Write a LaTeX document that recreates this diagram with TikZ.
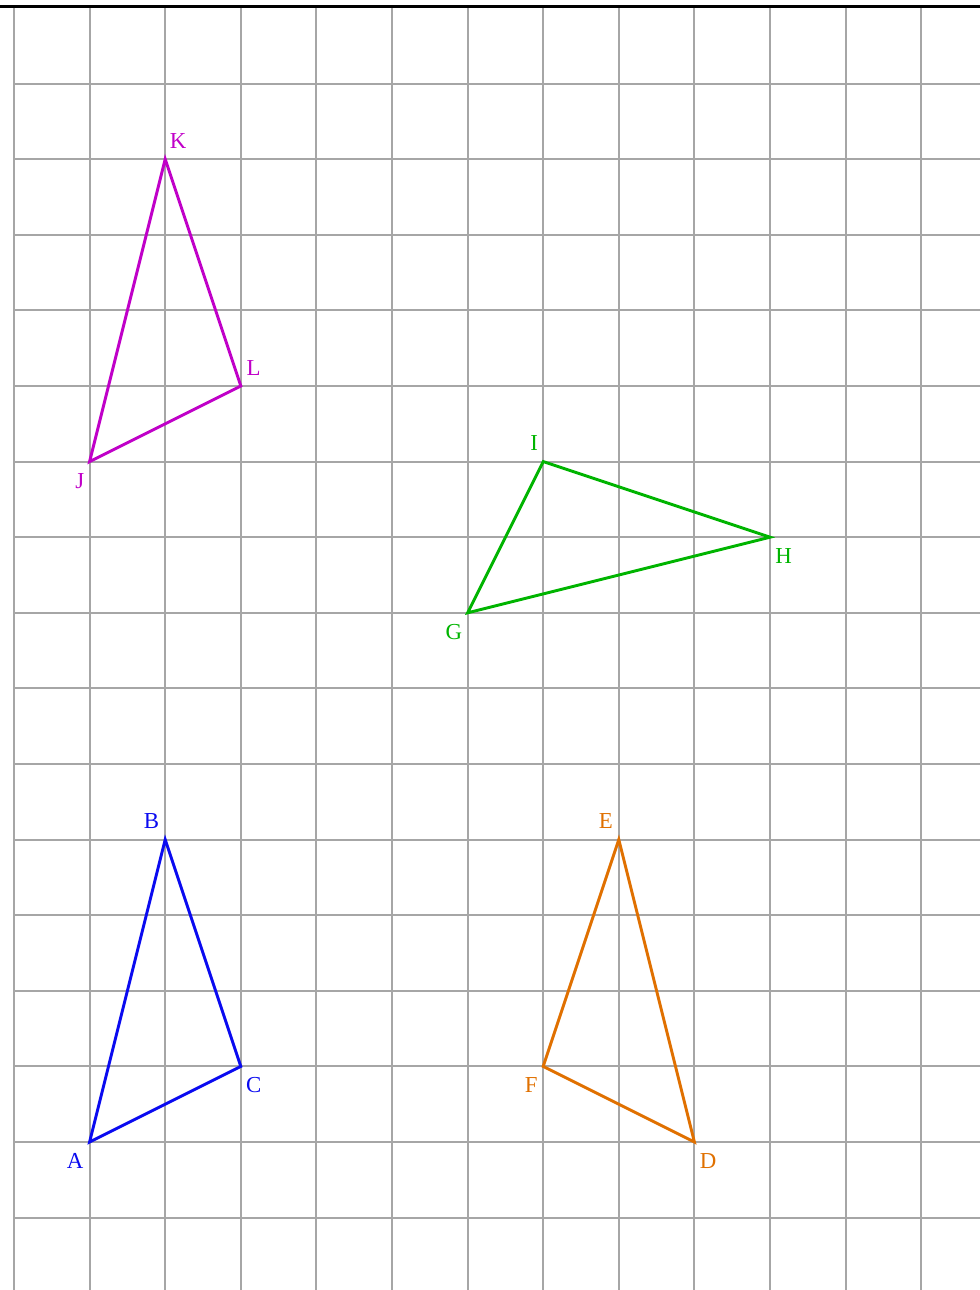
\documentclass[tikz,border=0pt]{standalone}
\usepackage{fontspec}
\setmainfont{Liberation Serif}
\usetikzlibrary{calc}
\definecolor{cmag}{HTML}{C000C8}
\definecolor{cgrn}{HTML}{00B400}
\definecolor{cblu}{HTML}{0A0AF0}
\definecolor{corg}{HTML}{E07000}
\definecolor{cgrid}{HTML}{A6A6A6}
\begin{document}
\begin{tikzpicture}[x=1cm,y=-1cm,
  tri/.style={line width=1.1pt, line join=miter},
  gridline/.style={cgrid, line width=0.75pt},
  lbl/.style={inner sep=0pt, font=\fontsize{8.6pt}{10pt}\selectfont}]
\useasboundingbox (-0.1852,-0.1058) rectangle (12.7778,16.9577);
% grid
\foreach \i in {0,...,12} \draw[gridline] (\i,0) -- (\i,16.96);
\foreach \j in {1,...,16} \draw[gridline] (0,\j) -- (12.78,\j);
\draw[black, line width=0.9pt] (-0.19,-0.02) -- (12.78,-0.02);
% JKL
\coordinate (K) at (2,2); \coordinate (L) at (3,5); \coordinate (J) at (1,6);
\draw[tri, cmag] (J) -- (K) -- (L) -- cycle;
\node[lbl, text=cmag] (lK) at ($(K)+(0.17,-0.24)$) {K};
\node[lbl, text=cmag] (lL) at ($(L)+(0.17,-0.24)$) {L};
\node[lbl, text=cmag] (lJ) at ($(J)+(-0.13,0.26)$) {J};
% GHI
\coordinate (I) at (7,6); \coordinate (H) at (10,7); \coordinate (G) at (6,8);
\draw[tri, cgrn] (G) -- (I) -- (H) -- cycle;
\node[lbl, text=cgrn] (lI) at ($(I)+(-0.12,-0.25)$) {I};
\node[lbl, text=cgrn] (lH) at ($(H)+(0.18,0.25)$) {H};
\node[lbl, text=cgrn] (lG) at ($(G)+(-0.18,0.25)$) {G};
% ABC
\coordinate (B) at (2,11); \coordinate (C) at (3,14); \coordinate (A) at (1,15);
\draw[tri, cblu] (A) -- (B) -- (C) -- cycle;
\node[lbl, text=cblu] (lB) at ($(B)+(-0.18,-0.25)$) {B};
\node[lbl, text=cblu] (lC) at ($(C)+(0.17,0.25)$) {C};
\node[lbl, text=cblu] (lA) at ($(A)+(-0.19,0.25)$) {A};
% DEF
\coordinate (E) at (8,11); \coordinate (F) at (7,14); \coordinate (D) at (9,15);
\draw[tri, corg] (F) -- (E) -- (D) -- cycle;
\node[lbl, text=corg] (lE) at ($(E)+(-0.17,-0.25)$) {E};
\node[lbl, text=corg] (lF) at ($(F)+(-0.16,0.25)$) {F};
\node[lbl, text=corg] (lD) at ($(D)+(0.18,0.25)$) {D};
\end{tikzpicture}
\end{document}
